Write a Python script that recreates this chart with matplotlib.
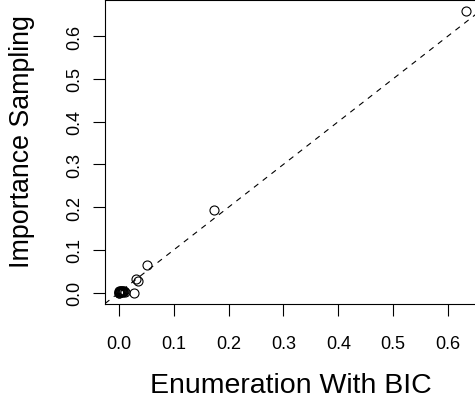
import matplotlib
matplotlib.use("Agg")
import matplotlib.pyplot as plt
import numpy as np

plt.rcParams['font.family'] = ['Liberation Sans', 'DejaVu Sans']

# Data
enum_bic = [0.633, 0.174, 0.052, 0.031, 0.034, 0.028,
            0.000, 0.001, 0.002, 0.003, 0.004, 0.005, 0.006, 0.008,
            0.009, 0.011, 0.001, 0.000, 0.002, 0.007]
imp_samp = [0.659, 0.194, 0.065, 0.033, 0.027, 0.000,
            0.000, 0.002, 0.001, 0.004, 0.003, 0.001, 0.004, 0.002,
            0.005, 0.002, 0.000, 0.003, 0.005, 0.005]
ticks = [0.0, 0.1, 0.2, 0.3, 0.4, 0.5, 0.6]
tick_labels = ["0.0", "0.1", "0.2", "0.3", "0.4", "0.5", "0.6"]

W, H = 475, 402
fig = plt.figure(figsize=(W / 100, H / 100), dpi=100)
ax = fig.add_axes([105 / W, (H - 305) / H, (480 - 105) / W, 304.5 / H])

ax.plot(enum_bic, imp_samp, linestyle='none', marker='o', markersize=6.5,
        markerfacecolor='none', markeredgecolor='black', markeredgewidth=0.8)

xmax = max(enum_bic)
ymax = max(imp_samp)
ax.set_xlim(-0.04 * xmax, xmax * 1.04)
ax.set_ylim(-0.04 * ymax, ymax * 1.04)

xx = np.array(ax.get_xlim())
ax.plot(xx, xx, color='black', linewidth=0.8, linestyle=(0, (5, 5)))

ax.set_xticks(ticks)
ax.set_xticklabels(tick_labels)
ax.set_yticks(ticks)
ax.set_yticklabels(tick_labels, rotation=90, va='center')
ax.tick_params(axis='both', length=8.6, width=0.8, labelsize=13, direction='out')
ax.tick_params(axis='x', pad=14)
ax.tick_params(axis='y', pad=7.3)

for s in ax.spines.values():
    s.set_linewidth(0.8)

ax.set_xlabel("Enumeration With BIC", fontsize=20.5)
ax.set_ylabel("Importance Sampling", fontsize=19.3)
ax.xaxis.set_label_coords(0.497, -0.2217)
ax.yaxis.set_label_coords(-0.187, 0.537)

fig.savefig("out.png", dpi=100)
